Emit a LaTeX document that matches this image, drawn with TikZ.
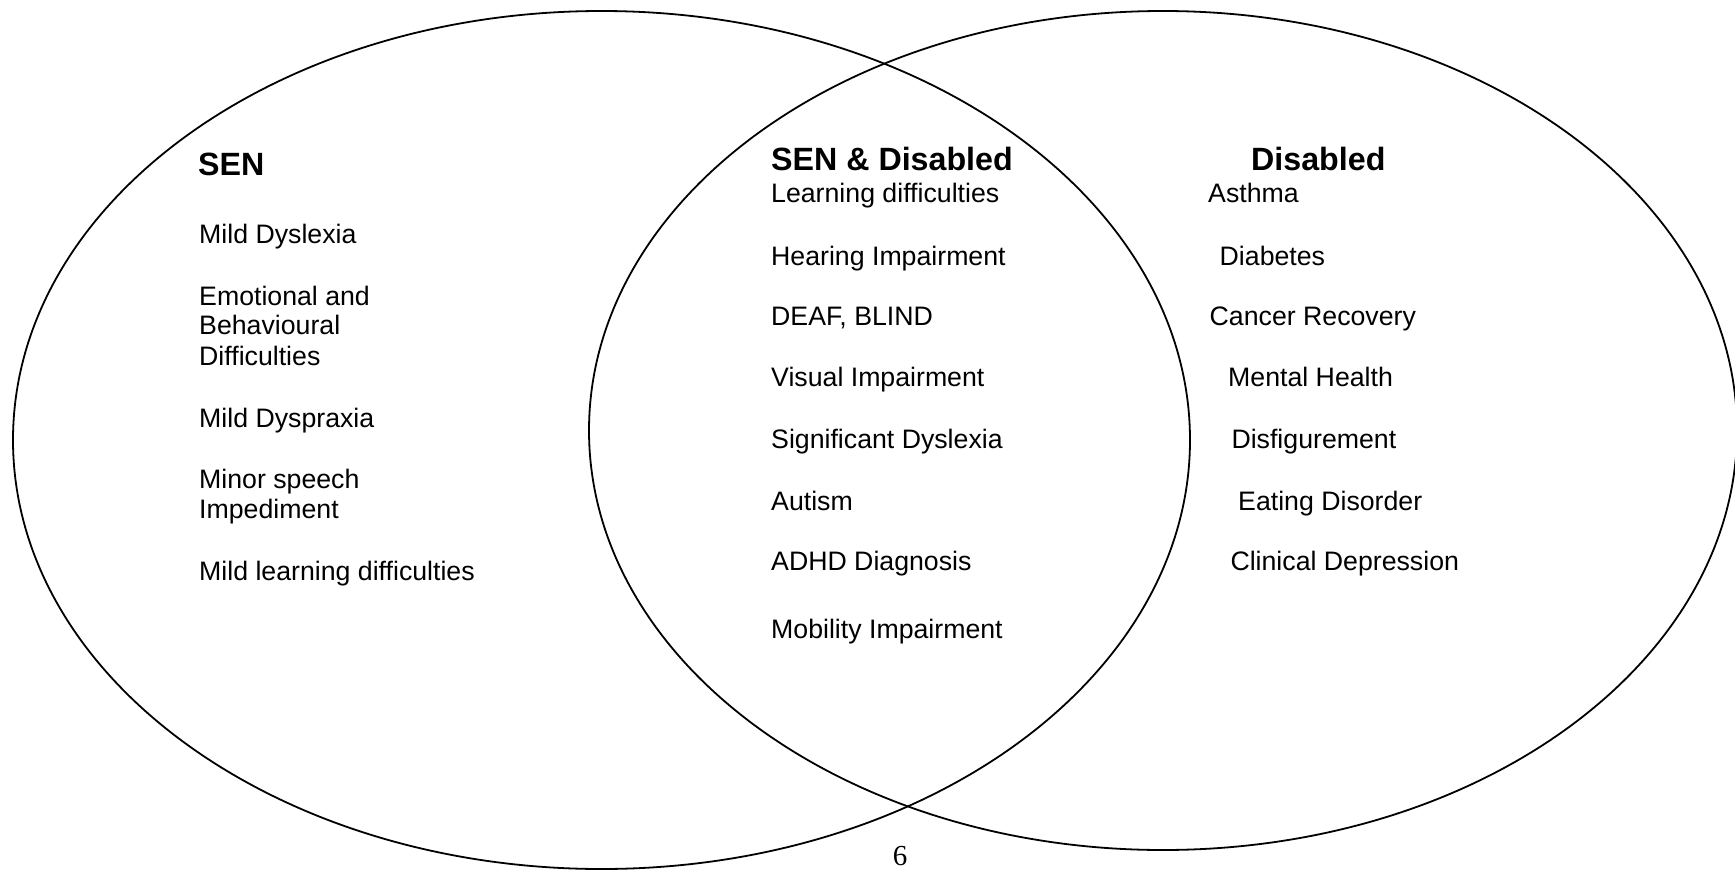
\documentclass[tikz,border=0pt]{standalone}
\usepackage{fontspec}
\setmainfont{Liberation Sans}
\newfontfamily\serifpn{Liberation Serif}
\tikzset{
  item/.style={anchor=base west, inner sep=0pt, font=\fontsize{26.7}{30}\selectfont},
  head/.style={anchor=base west, inner sep=0pt, font=\fontsize{32.2}{36}\selectfont\bfseries},
  ring/.style={draw=black, line width=1.8pt},
  pagenum/.style={anchor=base, inner sep=0pt, font=\fontsize{29}{32}\serifpn},
}
\begin{document}
\begin{tikzpicture}[x=1pt,y=-1pt]
\useasboundingbox (0,0) rectangle (1735,870);
\begin{scope}
  \clip (0,0) rectangle (1735,870);
  \draw[ring] (601.5,440) ellipse [x radius=588.5pt, y radius=429pt];
  \draw[ring] (1163,430.5) ellipse [x radius=574pt, y radius=419.5pt];
\end{scope}

% SEN column
\node[head] (senh) at (198,175) {SEN};
\node[item] (s1)  at (199,243.5) {Mild Dyslexia};
\node[item] (s2a) at (199,305) {Emotional and};
\node[item] (s2b) at (199,334.5) {Behavioural};
\node[item] (s2c) at (199,365) {Difficulties};
\node[item] (s3)  at (199,427.7) {Mild Dyspraxia};
\node[item] (s4a) at (199,488.3) {Minor speech};
\node[item] (s4b) at (199,518.3) {Impediment};
\node[item] (s5)  at (199,580) {Mild learning difficulties};

% SEN & Disabled column
\node[head] (bothh) at (771,170.7) {SEN \& Disabled};
\node[item] (b1) at (771,202.3) {Learning difficulties};
\node[item] (b2) at (771,265) {Hearing Impairment};
\node[item] (b3) at (771,325) {DEAF, BLIND};
\node[item] (b4) at (771,386.7) {Visual Impairment};
\node[item] (b5) at (771,448.3) {Significant Dyslexia};
\node[item] (b6) at (771,510) {Autism};
\node[item] (b7) at (771,570.7) {ADHD Diagnosis};
\node[item] (b8) at (771,638.3) {Mobility Impairment};

% Disabled column
\node[head] (dish) at (1251,170.7) {Disabled};
\node[item] (d1) at (1208,202.7) {Asthma};
\node[item] (d2) at (1219.5,265) {Diabetes};
\node[item] (d3) at (1209.5,325.7) {Cancer Recovery};
\node[item] (d4) at (1228,386.7) {Mental Health};
\node[item] (d5) at (1231.3,448.3) {Disfigurement};
\node[item] (d6) at (1238,510) {Eating Disorder};
\node[item] (d7) at (1230.3,570.7) {Clinical Depression};

\node[pagenum] (pg) at (900,865.5) {6};
\end{tikzpicture}
\end{document}
